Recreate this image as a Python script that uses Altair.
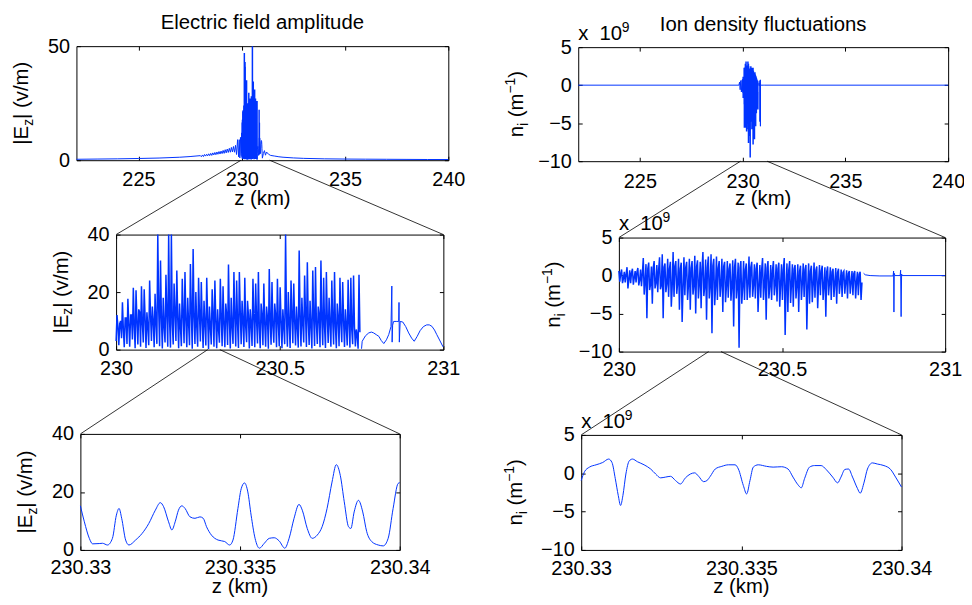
import altair as alt
import numpy as np
import pandas as pd

FONT = "Liberation Sans"
FS = 20.5       # titles
LFS = 20        # tick labels
BLUE = "#0033ff"
OFF = 8          # page margin: view origin sits at page pixel (8, 8)
W, H = 964, 591  # whole drawing area in pixels

# ---------------- data ----------------
# |Ez| in the top panel outside the 230-231 km burst
e_pre_z = [222, 223, 224, 225, 226, 227, 227.5]
e_pre_v = [0.4, 0.5, 0.6, 0.75, 0.95, 1.3, 1.6]
# fuzzy rising band 228.0 - 229.85 km (sampled on a 0.05 km grid)
e_ripple_v = [2.0, 1.5, 2.3, 1.6, 2.5, 1.8, 2.6, 1.9, 2.8, 2.0, 3.0, 2.1, 3.2, 2.3, 3.4, 2.4,
              3.6, 2.6, 3.8, 2.7, 4.0, 2.9, 4.3, 3.0, 4.6, 3.2, 4.9, 3.4, 5.2, 3.5, 5.6, 3.6,
              6.0, 3.5, 6.5, 2.5, 9.0, 1.5]
e_edge_z = [229.88, 229.91, 229.94, 229.97]
e_edge_v = [9.0, 1.0, 10.0, 2.0]
e_post_z = [231.05, 231.1, 231.15, 231.2, 231.3, 231.4, 231.6, 231.8, 232.0, 232.5, 233.0, 234.0,
            235.0, 236.0, 237.0, 238.0, 239.0, 240.0]
e_post_v = [3.0, 4.2, 2.2, 3.6, 2.6, 2.1, 1.8, 1.5, 1.3, 1.0, 0.8, 0.6, 0.5, 0.45, 0.4, 0.35, 0.3, 0.3]

# |Ez| turbulent part 230.0 - 230.745 km: trough, spike top, rebound (per cycle)
e_peak = [12, 9, 16.5, 11, 17.7, 12, 21.5, 20.6, 14, 22,
          21, 13, 24, 15, 19.4, 47, 31, 18, 26, 43,
          41, 23, 27.5, 16, 24.6, 27, 18, 29.8, 35, 20,
          25, 23.5, 17, 25, 15, 21, 24, 14, 24.6, 22,
          16, 29.6, 18, 27, 24, 27, 17, 25, 17, 14,
          24.6, 23, 27, 16, 23, 15, 28, 23.5, 16, 24.6,
          21.7, 14, 52, 20, 24, 23, 15, 34.5, 18, 25.8,
          30.4, 17, 27.5, 28.7, 15, 31, 25, 27, 18, 24,
          27, 16, 25, 23.5, 14, 24.3, 25, 25.8, 7, 26]
e_trough = [3, 1.5, 4, 0.8, 2, 1, 3.5, 0.5, 1.8, 1,
            2.5, 0.6, 1.5, 3, 0.8, 2, 1.2, 0.4, 2.5, 1,
            0.7, 1.8, 3, 0.5, 1.2, 2.2, 0.8, 1.5, 0.3, 2,
            1, 2.8, 0.6, 1.4, 0.2, 1.8, 1, 0.5, 2.4, 1.2,
            0.8, 1.6, 0.4, 2, 1.1, 0.6, 1.9, 0.9, 2.6, 0.4,
            1.3, 0.8, 2.1, 0.5, 1.5, 1, 0.3, 1.7, 2.4, 0.8,
            1.2, 0.5, 1.9, 1, 0.6, 2.2, 1.4, 0.7, 1.1, 2.5,
            0.9, 1.6, 0.4, 1.3, 2, 0.8, 1.5, 0.6, 2.3, 1,
            1.8, 0.5, 1.2, 2.6, 0.9, 1.4, 0.7, 1.9, 1.1, 0.3]
e_rebound = [8, 10, 7, 11, 9, 12, 8, 10, 13, 9,
             11, 8, 12, 10, 9, 14, 11, 8, 12, 10,
             9, 13, 11, 8, 12, 10, 9, 13, 11, 8,
             12, 10, 9, 11, 8, 12, 10, 7, 11, 9,
             12, 10, 8, 11, 9, 13, 10, 8, 12, 9,
             11, 10, 8, 12, 9, 11, 10, 8, 12, 9,
             10, 8, 11, 9, 12, 10, 8, 11, 9, 12,
             10, 8, 11, 9, 12, 10, 8, 11, 9, 10,
             8, 11, 9, 10, 8, 9, 7, 8, 5, 6]
# |Ez| smooth tail 230.75 - 231 km
e_tail_z = [230.750, 230.752, 230.762, 230.772, 230.780, 230.787, 230.795, 230.803, 230.810,
            230.818, 230.826, 230.833, 230.840, 230.8425, 230.8435, 230.845, 230.848, 230.858,
            230.8635, 230.8645, 230.8655, 230.868, 230.876, 230.885, 230.894, 230.903, 230.911,
            230.920, 230.929, 230.939, 230.949, 230.957, 230.965, 230.973, 230.980, 230.990,
            230.998, 231.0]
e_tail_v = [0.3, 2.9, 4.8, 5.8, 6.1, 5.8, 5.2, 4.6, 3.2, 2.1, 3.4, 5.2, 8.0, 22.1, 2.6, 8.5,
            9.8, 9.8, 9.8, 16.4, 2.6, 9.8, 9.6, 8.0, 5.8, 4.0, 2.9, 4.6, 6.6, 8.0, 8.6, 8.6,
            8.1, 6.8, 5.2, 3.0, 1.2, 0.9]

# ion density (x 1e9 m^-1)
ni_pre_z = [222, 229.82, 229.85, 229.88, 229.91, 229.94, 229.97]
ni_pre_v = [0, 0, 0.4, -0.6, 0.6, -0.9, 0.7]
ni_hi = [0.6, 0.8, 0.5, 1.1, 0.7, 0.9, 0.6, 1.0, 0.8, 2.3,
         1.5, 1.7, 1.2, 1.9, 1.4, 2.4, 2.8, 1.6, 2.2, 1.8,
         3.1, 1.9, 2.2, 1.7, 2.4, 1.8, 2.2, 1.9, 2.6, 2.0,
         1.8, 3.1, 2.1, 2.5, 2.8, 2.2, 2.5, 1.9, 2.2, 1.8,
         1.9, 1.6, 2.0, 2.2, 1.7, 1.9, 1.9, 1.6, 2.5, 1.8,
         1.5, 1.7, 1.4, 2.3, 1.6, 1.9, 1.4, 1.9, 1.5, 1.7,
         1.5, 2.3, 1.6, 1.9, 1.5, 1.4, 1.5, 1.3, 1.6, 1.4,
         1.6, 1.3, 1.7, 1.2, 1.4, 1.3, 1.1, 1.2, 1.1, 0.9,
         1.0, 0.9, 0.8, 0.6, 0.7, 0.6, 0.6, 0.6, 0.5, 0.5]
ni_lo = [-0.8, -1.0, -0.9, -1.7, -1.0, -1.2, -0.9, -1.3, -1.4, -2.5,
         -5.6, -1.9, -3.7, -1.7, -2.2, -1.8, -5.6, -2.2, -2.8, -4.1,
         -2.8, -2.4, -4.5, -6.1, -2.6, -3.2, -4.5, -2.5, -5.0, -3.0,
         -4.3, -2.7, -5.8, -3.0, -7.6, -3.9, -3.2, -2.8, -4.8, -3.5,
         -2.9, -3.3, -6.7, -3.0, -9.5, -3.7, -3.2, -3.2, -2.9, -2.8,
         -3.0, -4.8, -2.9, -3.2, -5.8, -3.0, -3.2, -2.6, -3.4, -4.1,
         -3.2, -7.8, -4.8, -3.6, -4.1, -3.0, -4.8, -3.2, -2.8, -7.1,
         -3.7, -3.5, -2.9, -4.3, -2.6, -3.2, -5.4, -2.6, -3.2, -2.8,
         -3.7, -2.4, -2.8, -2.4, -3.0, -2.4, -2.6, -3.0, -2.6, -3.2]
ni_mid = [0.3, -0.4, 0.2, -0.5, 0.4, -0.3, 0.5, -0.6, 0.3, -0.8,
          0.9, -1.2, 1.0, -1.0, 0.8, -1.3, 1.1, -1.1, 0.9, -1.4,
          1.2, -1.0, 0.9, -1.5, 1.1, -1.2, 1.0, -1.3, 1.2, -1.1,
          0.9, -1.4, 1.1, -1.2, 1.3, -1.5, 1.0, -1.1, 1.2, -1.4,
          0.9, -1.2, 1.1, -1.3, 1.0, -1.5, 0.8, -1.1, 1.1, -1.2,
          0.9, -1.3, 0.8, -1.1, 1.0, -1.4, 0.7, -1.2, 0.9, -1.0,
          0.8, -1.3, 0.7, -1.1, 0.9, -1.2, 0.6, -1.0, 0.8, -1.3,
          0.6, -1.1, 0.7, -0.9, 0.6, -1.2, 0.5, -1.0, 0.5, -0.9,
          0.4, -1.0, 0.4, -0.8, 0.3, -0.9, 0.3, -0.8, 0.2, -0.9]
ni_tail_z = [230.75, 230.755, 230.77, 230.80, 230.8405, 230.842, 230.843, 230.844, 230.846,
             230.862, 230.8635, 230.865, 230.8665, 230.868, 231.0]
ni_tail_v = [0.3, 0.1, 0.0, -0.05, -0.05, 0.6, -4.8, 0.3, 0.0, 0.0, 0.7, -5.4, 0.2, 0.0, 0.0]
ni_post_z = [231.05, 240.0]
ni_post_v = [0.0, 0.0]

# bottom (finest) panels, 230.33 - 230.34 km
eb_z = [230.330000, 230.330124, 230.330279, 230.330383, 230.330589, 230.330693, 230.330848,
        230.331003, 230.331127, 230.331210, 230.331293, 230.331417, 230.331520, 230.331727,
        230.331934, 230.332141, 230.332347, 230.332503, 230.332606, 230.332761, 230.332865,
        230.332968, 230.333071, 230.333175, 230.333278, 230.333433, 230.333588, 230.333744,
        230.333847, 230.333950, 230.334105, 230.334312, 230.334519, 230.334674, 230.334778,
        230.334933, 230.335036, 230.335140, 230.335243, 230.335346, 230.335470, 230.335605,
        230.335760, 230.335915, 230.336070, 230.336225, 230.336401, 230.336536, 230.336691,
        230.336846, 230.336949, 230.337104, 230.337260, 230.337415, 230.337570, 230.337725,
        230.337880, 230.338014, 230.338139, 230.338263, 230.338397, 230.338470, 230.338573,
        230.338707, 230.338842, 230.338966, 230.339121, 230.339328, 230.339483, 230.339638,
        230.339793, 230.339948, 230.340000]
eb_v = [15.2, 9.7, 4.0, 2.1, 2.2, 2.3, 1.7, 4.0, 12.0, 14.3,
        10.9, 3.4, 1.7, 3.4, 5.7, 9.1, 13.7, 16.3, 14.9, 9.7,
        6.9, 9.7, 13.7, 15.2, 14.3, 11.4, 10.9, 11.4, 10.9, 8.0,
        5.1, 3.4, 2.9, 1.7, 3.4, 14.3, 21.1, 23.1, 20.0, 12.0,
        4.0, 0.6, 2.3, 4.0, 4.2, 3.1, 0.6, 4.0, 10.9, 15.7,
        13.7, 7.4, 4.0, 5.1, 8.0, 14.3, 23.4, 29.4, 25.7, 16.6,
        8.0, 7.4, 13.1, 17.1, 13.1, 6.3, 2.9, 1.7, 1.4, 4.0,
        14.3, 22.9, 23.2]
nb_z = [230.330000, 230.330103, 230.330258, 230.330465, 230.330671, 230.330857, 230.330961,
        230.331064, 230.331157, 230.331229, 230.331302, 230.331395, 230.331498, 230.331601,
        230.331756, 230.331963, 230.332169, 230.332324, 230.332479, 230.332634, 230.332789,
        230.332944, 230.333099, 230.333254, 230.333409, 230.333543, 230.333667, 230.333822,
        230.333926, 230.334029, 230.334184, 230.334390, 230.334597, 230.334804, 230.334907,
        230.335062, 230.335165, 230.335269, 230.335372, 230.335527, 230.335785, 230.335992,
        230.336250, 230.336457, 230.336612, 230.336767, 230.336870, 230.336973, 230.337128,
        230.337283, 230.337490, 230.337645, 230.337851, 230.338006, 230.338110, 230.338233,
        230.338347, 230.338471, 230.338626, 230.338709, 230.338833, 230.338936, 230.339091,
        230.339246, 230.339452, 230.339659, 230.339814, 230.340000]
nb_v = [-0.95, 0.2, 0.8, 1.1, 1.4, 1.85, 1.4, -0.7, -2.9, -4.2,
        -2.9, -0.1, 1.6, 1.85, 1.5, 1.1, 0.55, -0.1, -0.6, -0.5,
        -0.4, -0.95, -1.4, -0.6, -0.1, 0.05, -0.4, -1.1, -0.95, -0.4,
        0.55, 0.9, 1.1, 1.1, 0.55, -1.6, -2.7, -0.95, 0.8, 1.1,
        0.9, 0.8, 0.85, 0.55, -0.5, -1.5, -1.9, -0.7, 0.8, 1.0,
        1.0, 0.5, -0.5, -1.25, -0.5, 0.5, 0.55, -0.5, -2.0, -2.6,
        -1.15, 0.55, 1.35, 1.2, 1.0, 0.5, -0.5, -1.8]

# zoom connector start points (km) on the parent panels
conn_top_left = [229.97, 231.35]
conn_top_right = [229.9, 231.19]
conn_mid_left = [230.28, 230.317]
conn_mid_right = [230.275, 230.313]

# tick values
xt_top = [225, 230, 235, 240]
xt_mid = [230, 230.5, 231]
xt_bot = [230.33, 230.335, 230.34]
yt_e_top = [0, 50]
yt_e = [0, 20, 40]
yt_n = [-10, -5, 0, 5]

# ---------------- panel layout (page pixels) ----------------
TL = dict(x0=77, x1=452, yt=44, yb=159, xd=[222, 240], yd=[0, 50], xt=xt_top, ytk=yt_e_top, lp=10)
TR = dict(x0=583, x1=956, yt=45, yb=160, xd=[222, 240], yd=[-10, 5], xt=xt_top, ytk=yt_n, lp=10.5)
ML = dict(x0=117, x1=447, yt=234, yb=350, xd=[230, 231], yd=[0, 40], xt=xt_mid, ytk=yt_e, lp=9)
MR = dict(x0=624, x1=953, yt=237, yb=352, xd=[230, 231], yd=[-10, 5], xt=xt_mid, ytk=yt_n, lp=8.5)
BL = dict(x0=81, x1=403, yt=435, yb=552, xd=[230.33, 230.34], yd=[0, 40], xt=xt_bot, ytk=yt_e, lp=8)
BR = dict(x0=586, x1=909, yt=436, yb=552, xd=[230.33, 230.34], yd=[-10, 5], xt=xt_bot, ytk=yt_n, lp=9)


def sx(p):
    return alt.Scale(domain=p["xd"], range=[p["x0"] - OFF, p["x1"] - OFF], nice=False, zero=False, clamp=True)


def sy(p):
    return alt.Scale(domain=p["yd"], range=[p["yb"] - OFF, p["yt"] - OFF], nice=False, zero=False, clamp=True)


LBL = dict(labelFont=FONT, labelFontSize=LFS, labelColor="black", grid=False, title=None,
           labelExpr="format(datum.value, '~r')")


def main_axes(p):
    xa = alt.Axis(orient="bottom", offset=(p["yb"] - OFF) - H, values=p["xt"],
                  ticks=False, tickSize=0, domain=True, domainColor="black", domainWidth=1,
                  labelPadding=p["lp"], labelFlush=False, labelOverlap=False, **LBL)
    ya = alt.Axis(orient="left", offset=-(p["x0"] - OFF), values=p["ytk"],
                  ticks=False, tickSize=0, domain=True, domainColor="black", domainWidth=1,
                  labelPadding=7, labelFlush=False, labelOverlap=False, **LBL)
    return xa, ya


def line_layer(p, z, v, axes=False, interp="linear", width=1.0):
    df = pd.DataFrame({"z": z, "v": v})
    xa, ya = main_axes(p) if axes else (None, None)
    return alt.Chart(df).mark_line(color=BLUE, strokeWidth=width, interpolate=interp).encode(
        x=alt.X("z:Q", scale=sx(p), axis=xa), y=alt.Y("v:Q", scale=sy(p), axis=ya))


def tick_layers(p):
    d = pd.DataFrame({"z": [p["xd"][0]], "v": [p["yd"][0]]})
    com = dict(labels=False, grid=False, title=None, tickSize=4, tickColor="black", tickWidth=1,
               domainColor="black", domainWidth=1)
    b = alt.Chart(d).mark_point(opacity=0).encode(
        x=alt.X("z:Q", scale=sx(p), axis=alt.Axis(orient="top", offset=-(p["yb"] - OFF),
                                                  values=p["xt"], domain=False, **com)),
        y=alt.Y("v:Q", scale=sy(p), axis=alt.Axis(orient="right", offset=(p["x0"] - OFF) - W,
                                                  values=p["ytk"], domain=False, **com)))
    c = alt.Chart(d).mark_point(opacity=0).encode(
        x=alt.X("z:Q", scale=sx(p), axis=alt.Axis(orient="bottom", offset=(p["yt"] - OFF) - H,
                                                  values=p["xt"], domain=True, **com)),
        y=alt.Y("v:Q", scale=sy(p), axis=alt.Axis(orient="left", offset=-(p["x1"] - OFF),
                                                  values=p["ytk"], domain=True, **com)))
    return [b, c]


def text_layer(p, xv, yv, text, size, dx=0, dy=0, angle=0, align="left"):
    d = pd.DataFrame({"z": [xv], "v": [yv]})
    return alt.Chart(d).mark_text(text=text, font=FONT, fontSize=size, color="black", dx=dx, dy=dy,
                                  angle=angle, align=align, baseline="alphabetic").encode(
        x=alt.X("z:Q", scale=sx(p), axis=None), y=alt.Y("v:Q", scale=sy(p), axis=None))


CW = {"|": 260, "E": 667, "z": 500, " ": 278, "(": 333, "v": 500, "/": 278, "m": 833, ")": 333,
      "n": 556, "i": 222, "\u2212": 584, "1": 556}


def tw(s, size):
    return sum(CW.get(c, 556) for c in s) * size / 1000.0


def ytitle(p, pieces, gap):
    total = sum(tw(t, s) for t, s, _ in pieces)
    pos = -total / 2
    ymid = (p["yd"][0] + p["yd"][1]) / 2
    out = []
    for t, s, shift in pieces:
        body = t.lstrip(" ")
        pos += tw(t[:len(t) - len(body)], s)
        out.append(text_layer(p, p["xd"][0], ymid, body, s, dx=pos, dy=-gap + shift, angle=270))
        pos += tw(body, s)
    return out


E_PIECES = [("|E", FS, 0), ("z", 14, 5), ("| (v/m)", FS, 0)]
N_PIECES = [("n", FS, 0), ("i", 14, 5), (" (m", FS, 0), ("\u22121", 14, -8), (")", FS, 0)]


def exponent(p, dy=-8):
    return [text_layer(p, p["xd"][0], p["yd"][1], "x", FS, dx=0, dy=dy),
            text_layer(p, p["xd"][0], p["yd"][1], "10", FS, dx=21.5, dy=dy),
            text_layer(p, p["xd"][0], p["yd"][1], "9", 14, dx=44, dy=dy - 8)]


def xtitle(p, dy):
    return text_layer(p, (p["xd"][0] + p["xd"][1]) / 2, p["yd"][0], "z (km)", FS, dy=dy, align="center")


def connector(p, zstart, q, side):
    d = pd.DataFrame({"z": [zstart], "v": [p["yd"][0]]})
    tx = (q["x0"] if side == "left" else q["x1"]) - OFF
    return alt.Chart(d).mark_rule(color="black", strokeWidth=0.8).encode(
        x=alt.X("z:Q", scale=sx(p), axis=None), y=alt.Y("v:Q", scale=sy(p), axis=None),
        x2=alt.value(tx), y2=alt.value(q["yt"] - OFF))


# turbulent samples on the simulation grid
zn = list(np.linspace(230.0, 230.745, 3 * len(e_peak)))
e_noise = [v for trip in zip(e_trough, e_peak, e_rebound) for v in trip]
n_noise = [v for trip in zip(ni_hi, ni_lo, ni_mid) for v in trip]
z_ripple = list(np.linspace(228.0, 229.85, len(e_ripple_v)))

NW = 1.5  # stroke of the dense turbulent part

layers = []
# top left
layers.append(line_layer(TL, e_pre_z + z_ripple + e_edge_z, e_pre_v + e_ripple_v + e_edge_v, axes=True))
layers.append(line_layer(TL, zn, e_noise, width=NW))
layers.append(line_layer(TL, e_tail_z + e_post_z, e_tail_v + e_post_v))
layers += tick_layers(TL)
# top right
layers.append(line_layer(TR, ni_pre_z, ni_pre_v, axes=True))
layers.append(line_layer(TR, zn, n_noise, width=NW))
layers.append(line_layer(TR, ni_tail_z + ni_post_z, ni_tail_v + ni_post_v))
layers += tick_layers(TR)
# middle
layers.append(line_layer(ML, zn, e_noise, axes=True, width=NW))
layers.append(line_layer(ML, e_tail_z, e_tail_v))
layers += tick_layers(ML)
layers.append(line_layer(MR, zn, n_noise, axes=True, width=NW))
layers.append(line_layer(MR, ni_tail_z, ni_tail_v))
layers += tick_layers(MR)
# bottom
layers.append(line_layer(BL, eb_z, eb_v, axes=True, interp="monotone"))
layers += tick_layers(BL)
layers.append(line_layer(BR, nb_z, nb_v, axes=True, interp="monotone"))
layers += tick_layers(BR)

# texts
layers.append(text_layer(TL, 231, 50, "Electric field amplitude", FS, dy=-17, align="center"))
layers.append(text_layer(TR, 231, 5, "Ion density fluctuations", FS, dy=-16, align="center"))
layers.append(xtitle(TL, 45))
layers.append(xtitle(TR, 44))
layers.append(xtitle(BL, 43))
layers.append(xtitle(BR, 43))
layers += ytitle(TL, E_PIECES, 49)
layers += ytitle(ML, E_PIECES, 49)
layers += ytitle(BL, E_PIECES, 49)
layers += ytitle(TR, N_PIECES, 56)
layers += ytitle(MR, N_PIECES, 59)
layers += ytitle(BR, N_PIECES, 60)
layers += exponent(TR, -7)
layers += exponent(MR, -8)
layers += exponent(BR, -7)

# zoom connectors
layers.append(connector(TL, conn_top_left[0], ML, "left"))
layers.append(connector(TL, conn_top_left[1], ML, "right"))
layers.append(connector(TR, conn_top_right[0], MR, "left"))
layers.append(connector(TR, conn_top_right[1], MR, "right"))
layers.append(connector(ML, conn_mid_left[0], BL, "left"))
layers.append(connector(ML, conn_mid_left[1], BL, "right"))
layers.append(connector(MR, conn_mid_right[0], BR, "left"))
layers.append(connector(MR, conn_mid_right[1], BR, "right"))

chart = alt.layer(*layers).resolve_scale(x="independent", y="independent").properties(
    width=W, height=H, padding=0, autosize=alt.AutoSizeParams(type="none")
).configure_view(stroke=None)

chart.save("out.html", embed_options={"renderer": "svg", "actions": False})
